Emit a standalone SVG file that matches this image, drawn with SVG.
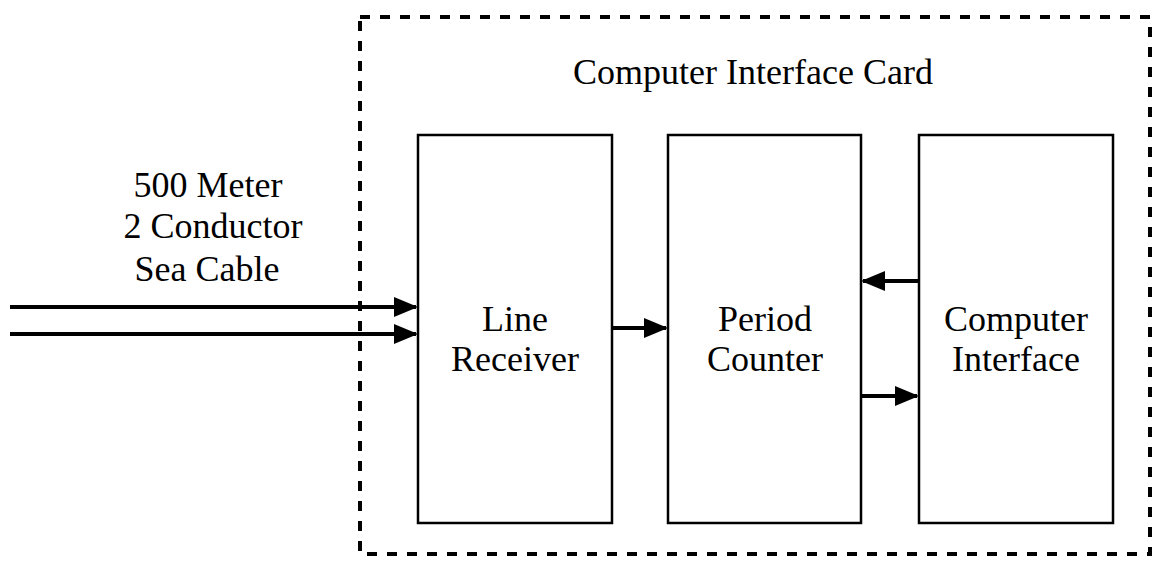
<svg xmlns="http://www.w3.org/2000/svg" width="1158" height="564" viewBox="0 0 1158 564">
<style>
text{font-family:"Liberation Serif","Times New Roman",serif;font-size:36px;fill:#000;text-anchor:middle}
.box{fill:#fff;stroke:#000;stroke-width:2.5}
.card{fill:none;stroke:#000;stroke-width:4;stroke-dasharray:10 10}
.wire{stroke:#000;stroke-width:4;fill:none}
</style>
<defs>
<marker id="ah" markerWidth="6" markerHeight="5" refX="5.5" refY="2.5" orient="auto" markerUnits="strokeWidth">
<path d="M0,0 L6,2.5 L0,5 Z" fill="#000"/>
</marker>
</defs>
<g id="card">
<rect class="card" x="360" y="17" width="790" height="537"/>
<text x="753" y="84">Computer Interface Card</text>
</g>
<g id="cable-label">
<text x="208" y="197">500 Meter</text>
<text x="213" y="238">2 Conductor</text>
<text x="207" y="281">Sea Cable</text>
</g>
<g id="line-receiver">
<rect class="box" x="418" y="135" width="194" height="388"/>
<text x="515" y="331">Line</text>
<text x="515" y="371">Receiver</text>
</g>
<g id="period-counter">
<rect class="box" x="668" y="135" width="193" height="388"/>
<text x="765" y="331">Period</text>
<text x="765" y="371">Counter</text>
</g>
<g id="computer-interface">
<rect class="box" x="919" y="135" width="194" height="388"/>
<text x="1016" y="331">Computer</text>
<text x="1016" y="371">Interface</text>
</g>
<g id="connectors">
<line class="wire" x1="10" y1="307" x2="416" y2="307" marker-end="url(#ah)"/>
<line class="wire" x1="10" y1="334" x2="416" y2="334" marker-end="url(#ah)"/>
<line class="wire" x1="612" y1="328" x2="666" y2="328" marker-end="url(#ah)"/>
<line class="wire" x1="919" y1="281" x2="863" y2="281" marker-end="url(#ah)"/>
<line class="wire" x1="861" y1="396" x2="917" y2="396" marker-end="url(#ah)"/>
</g>
</svg>
